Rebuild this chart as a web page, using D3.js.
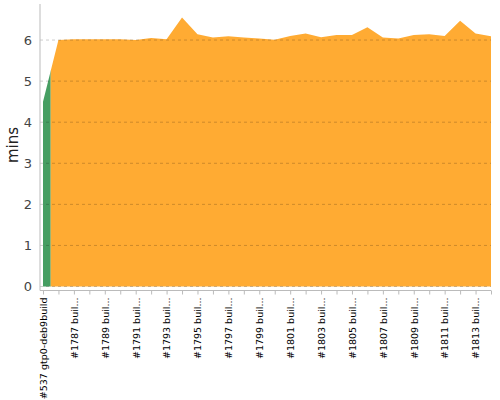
<!DOCTYPE html>
<html>
<head>
<meta charset="utf-8">
<script src="https://cdn.jsdelivr.net/npm/d3@7"></script>
<style>
  body { margin: 0; background: #fff; font-family: "DejaVu Sans", sans-serif; }
</style>
</head>
<body>
<div id="chart"></div>
<script>
// builds shown on the x axis (first one belongs to another job)
const BUILDS = [
  "#537 gtp0-deb9build", "#1786 buil...", "#1787 buil...", "#1788 buil...", "#1789 buil...",
  "#1790 buil...", "#1791 buil...", "#1792 buil...", "#1793 buil...", "#1794 buil...",
  "#1795 buil...", "#1796 buil...", "#1797 buil...", "#1798 buil...", "#1799 buil...",
  "#1800 buil...", "#1801 buil...", "#1802 buil...", "#1803 buil...", "#1804 buil...",
  "#1805 buil...", "#1806 buil...", "#1807 buil...", "#1808 buil...", "#1809 buil...",
  "#1810 buil...", "#1811 buil...", "#1812 buil...", "#1813 buil...", "#1814 buil..."
];
// which job each build belongs to (0 = green, 1 = orange)
const JOB = [0, 1, 1, 1, 1, 1, 1, 1, 1, 1, 1, 1, 1, 1, 1, 1, 1, 1, 1, 1, 1, 1, 1, 1, 1, 1, 1, 1, 1, 1];
// duration in minutes
const MINS = [
  4.5, 6.0, 6.02, 6.02, 6.02, 6.02, 6.0, 6.05, 6.02, 6.55,
  6.14, 6.06, 6.09, 6.06, 6.04, 6.01, 6.1, 6.16, 6.07, 6.12,
  6.12, 6.31, 6.06, 6.04, 6.12, 6.14, 6.1, 6.47, 6.16, 6.09
];
const Y_TICKS = [0, 1, 2, 3, 4, 5, 6];
const JOB_COLORS = ["#469e62", "#ffab33"];

const width = 500, height = 400;
const m = { top: 4, right: 9, bottom: 113.5, left: 43 };

const svg = d3.select("#chart").append("svg")
  .attr("width", width)
  .attr("height", height);

const x = d3.scalePoint()
  .domain(d3.range(BUILDS.length))
  .range([m.left, width - m.right]);
const step = x.step();

const y = d3.scaleLinear()
  .domain([0, d3.max(MINS) * 1.05])
  .range([height - m.bottom, m.top]);

const data = MINS.map((v, i) => ({ i, v, job: JOB[i] }));

// clip regions per job: each build owns half a step either side
const defs = svg.append("defs");
JOB_COLORS.forEach((c, j) => {
  const idx = data.filter(d => d.job === j).map(d => d.i);
  const x0 = Math.max(m.left, x(d3.min(idx)) - step / 2);
  const x1 = Math.min(width - m.right, x(d3.max(idx)) + step / 2);
  defs.append("clipPath").attr("id", "clip-job" + j)
    .append("rect")
    .attr("x", x0).attr("y", 0)
    .attr("width", x1 - x0).attr("height", height);
});

const area = d3.area()
  .x(d => x(d.i))
  .y0(y(0))
  .y1(d => y(d.v));

JOB_COLORS.forEach((c, j) => {
  svg.append("path")
    .datum(data)
    .attr("clip-path", `url(#clip-job${j})`)
    .attr("fill", c)
    .attr("d", area);
});

// gridlines on top of the area
svg.append("g")
  .selectAll("line")
  .data(Y_TICKS)
  .join("line")
  .attr("x1", m.left - 3)
  .attr("x2", width - m.right)
  .attr("y1", d => y(d))
  .attr("y2", d => y(d))
  .attr("stroke", "#000")
  .attr("stroke-opacity", 0.2)
  .attr("stroke-dasharray", "3,3");

// y axis (offset a little left of the plot)
const yAxis = svg.append("g")
  .attr("transform", `translate(${m.left - 3},0)`)
  .call(d3.axisLeft(y).tickValues(Y_TICKS).tickSize(0).tickPadding(8).tickFormat(d3.format("d")));
yAxis.select(".domain").attr("stroke", "#bbb").attr("d", `M0,${m.top}V${y(0) + 4}`);
yAxis.selectAll("text")
  .attr("font-size", 13)
  .attr("font-family", "DejaVu Sans, sans-serif")
  .attr("fill", "#444");

// x axis (offset a little below the plot)
const xAxis = svg.append("g")
  .attr("transform", `translate(0,${y(0) + 4})`)
  .call(d3.axisBottom(x).tickSize(4).tickSizeOuter(0).tickFormat(i => i % 2 === 0 ? BUILDS[i] : ""));
xAxis.select(".domain").attr("stroke", "#bbb").attr("d", `M${m.left - 3},0H${width - m.right}`);
xAxis.selectAll(".tick line").attr("stroke", "#bbb");
xAxis.selectAll("text")
  .attr("font-size", 9.5)
  .attr("font-family", "DejaVu Sans, sans-serif")
  .attr("fill", "#000")
  .attr("text-anchor", "end")
  .attr("transform", "rotate(-90)")
  .attr("x", -7)
  .attr("y", 0)
  .attr("dy", "0.35em");

// y label
svg.append("text")
  .attr("transform", "rotate(-90)")
  .attr("x", -145)
  .attr("y", 18)
  .attr("text-anchor", "middle")
  .attr("font-size", 15)
  .attr("font-family", "DejaVu Sans, sans-serif")
  .attr("fill", "#222")
  .text("mins");
</script>
</body>
</html>
